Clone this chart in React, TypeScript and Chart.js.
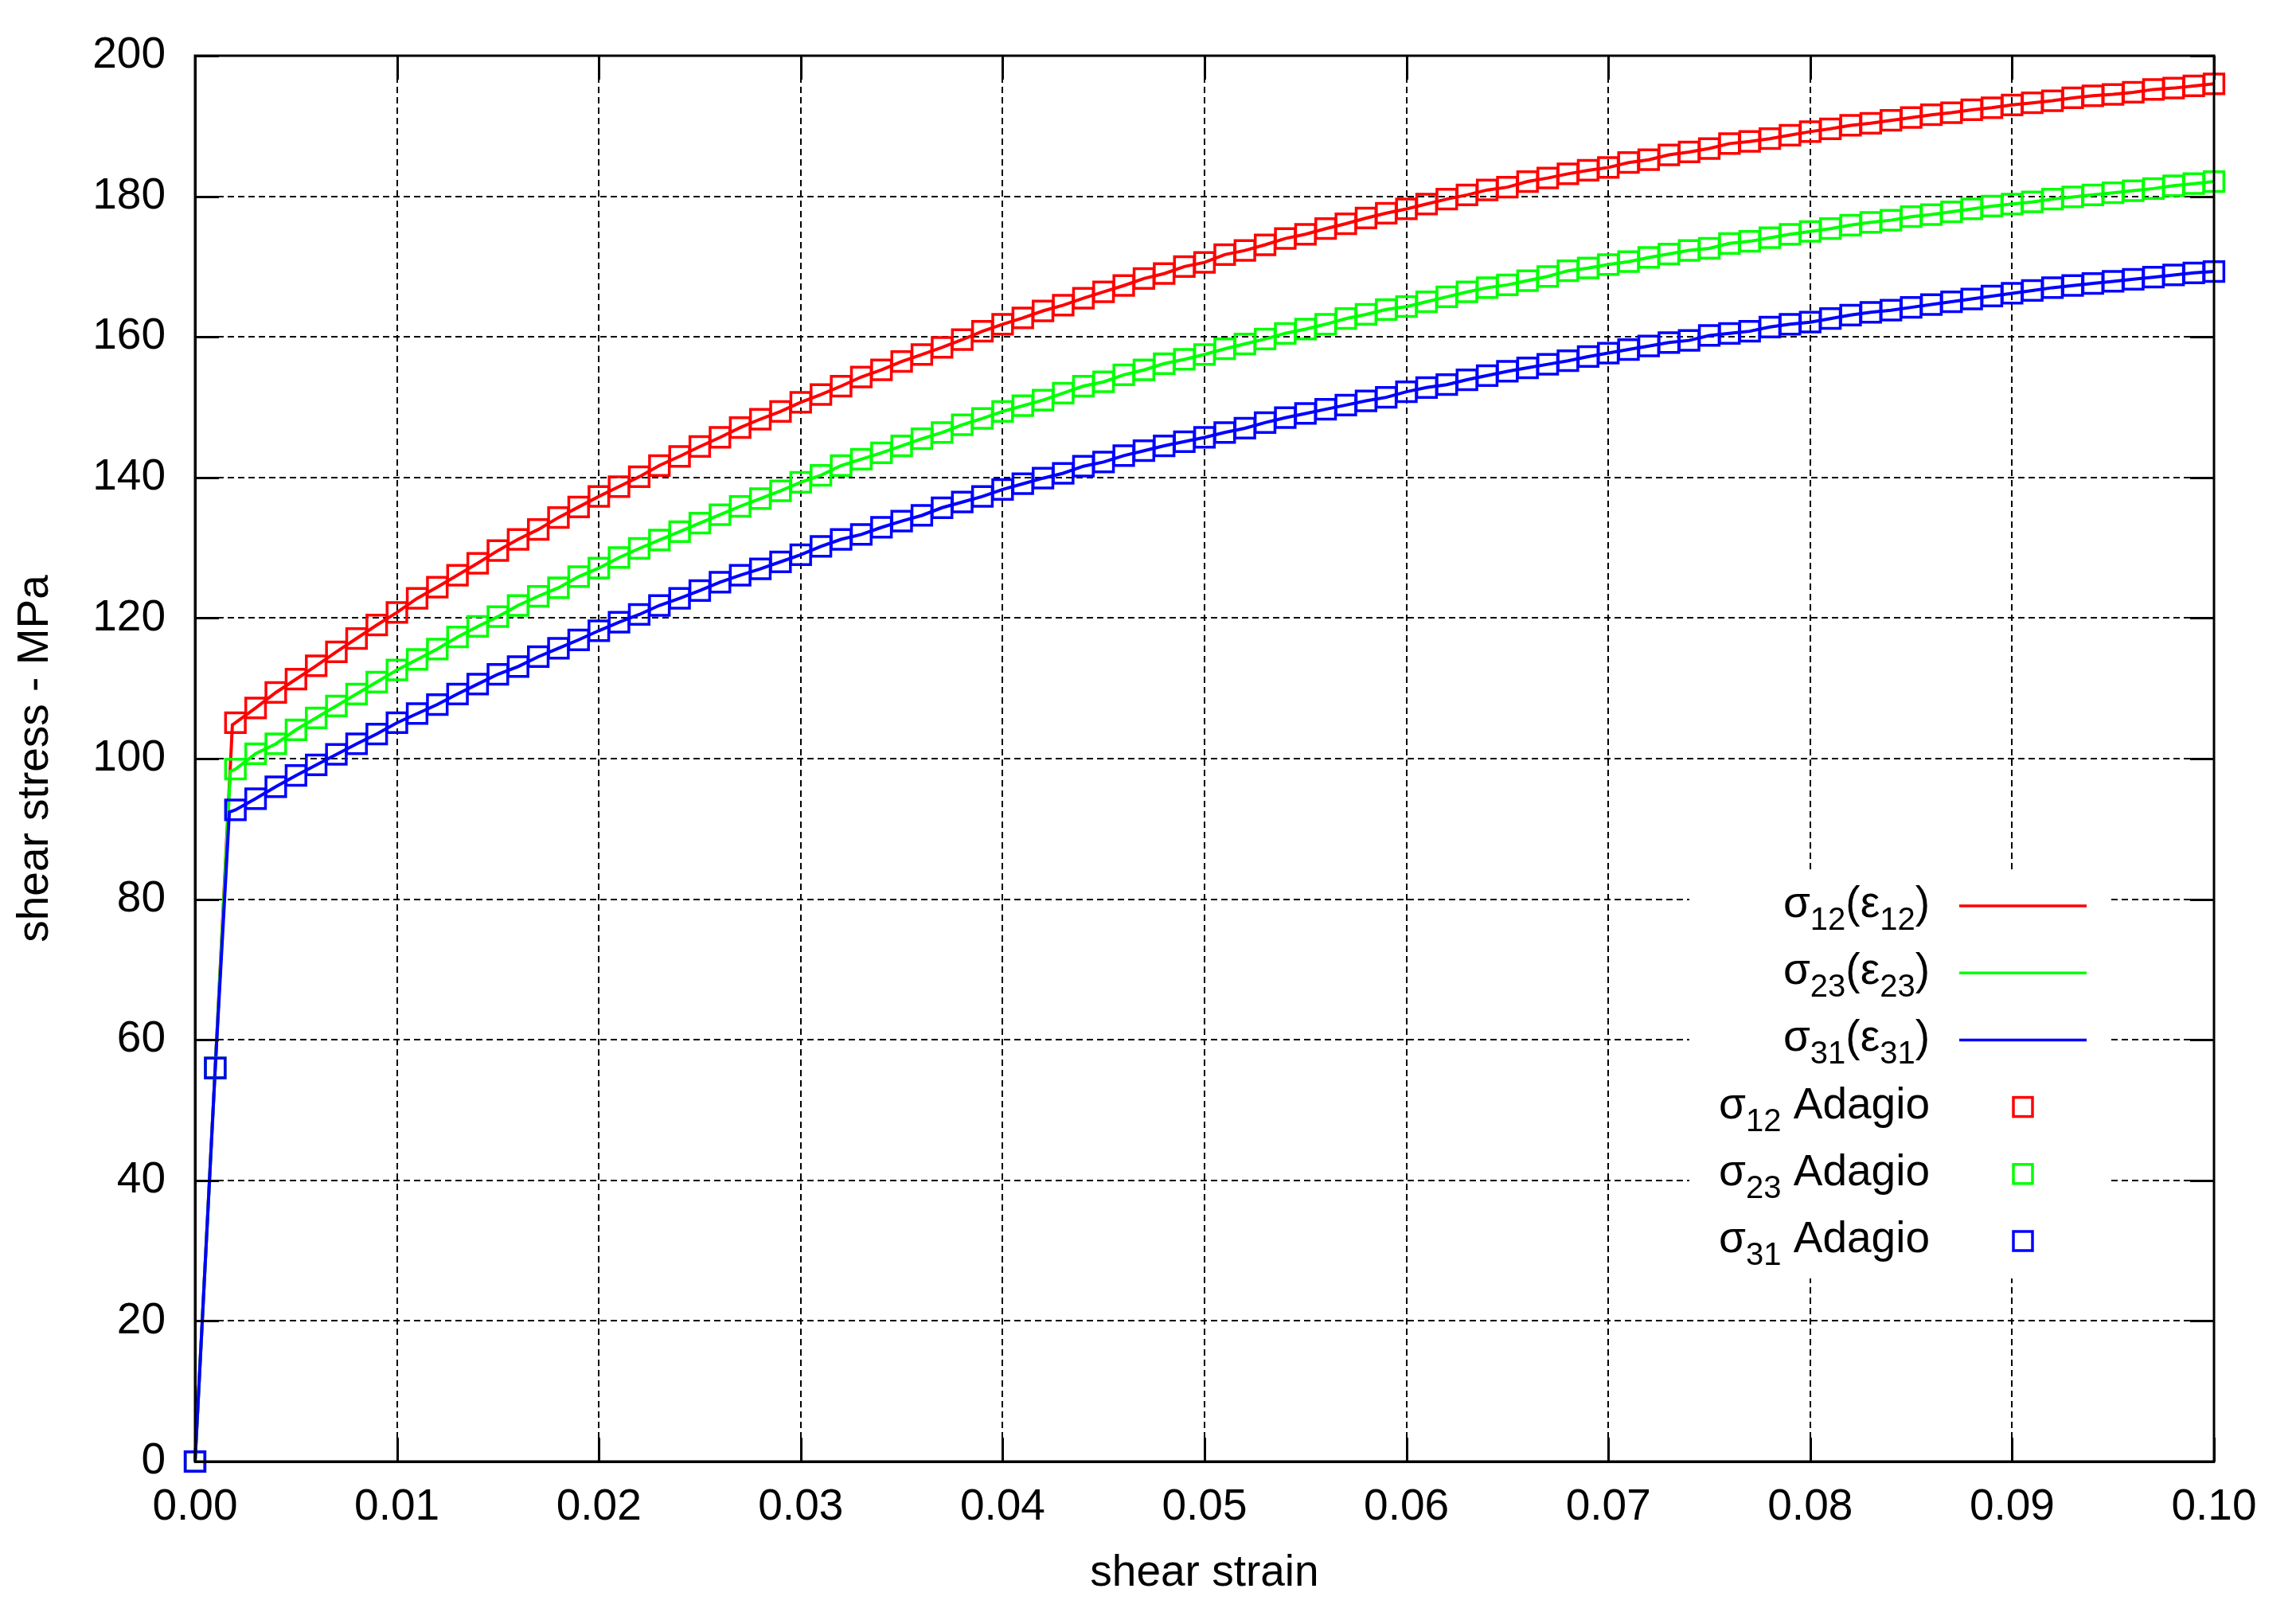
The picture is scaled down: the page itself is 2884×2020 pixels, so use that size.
import { useEffect, useRef } from 'react';
import { Chart, registerables } from 'chart.js';

Chart.register(...registerables);

const FONT = '"Liberation Sans", Arial, Helvetica, sans-serif';

// shear strain sampling of the Adagio output (x values)
const strain = [
  0, 0.001, 0.002, 0.003, 0.004, 0.005, 0.006, 0.007, 0.008, 0.009,
  0.010, 0.011, 0.012, 0.013, 0.014, 0.015, 0.016, 0.017, 0.018, 0.019,
  0.020, 0.021, 0.022, 0.023, 0.024, 0.025, 0.026, 0.027, 0.028, 0.029,
  0.030, 0.031, 0.032, 0.033, 0.034, 0.035, 0.036, 0.037, 0.038, 0.039,
  0.040, 0.041, 0.042, 0.043, 0.044, 0.045, 0.046, 0.047, 0.048, 0.049,
  0.050, 0.051, 0.052, 0.053, 0.054, 0.055, 0.056, 0.057, 0.058, 0.059,
  0.060, 0.061, 0.062, 0.063, 0.064, 0.065, 0.066, 0.067, 0.068, 0.069,
  0.070, 0.071, 0.072, 0.073, 0.074, 0.075, 0.076, 0.077, 0.078, 0.079,
  0.080, 0.081, 0.082, 0.083, 0.084, 0.085, 0.086, 0.087, 0.088, 0.089,
  0.090, 0.091, 0.092, 0.093, 0.094, 0.095, 0.096, 0.097, 0.098, 0.099,
  0.100,
];

// shear stress (MPa)
const sigma12 = [
  0, 56, 105.1, 107.2, 109.4, 111.3, 113.2, 115.2, 117.1, 119.0,
  120.8, 122.8, 124.4, 126.1, 127.8, 129.6, 131.2, 132.6, 134.3, 135.8,
  137.3, 138.7, 140.1, 141.7, 143.0, 144.4, 145.7, 147.1, 148.3, 149.4,
  150.7, 151.8, 153.0, 154.3, 155.3, 156.5, 157.5, 158.5, 159.6, 160.8,
  161.8, 162.7, 163.7, 164.5, 165.5, 166.4, 167.3, 168.3, 169.0, 170.0,
  170.6, 171.7, 172.3, 173.1, 174.0, 174.6, 175.4, 176.1, 176.9, 177.6,
  178.2, 178.9, 179.6, 180.2, 180.9, 181.3, 182.1, 182.6, 183.2, 183.7,
  184.1, 184.8, 185.2, 185.9, 186.3, 186.8, 187.5, 187.8, 188.2, 188.7,
  189.2, 189.6, 190.1, 190.4, 190.8, 191.2, 191.6, 191.9, 192.3, 192.6,
  193.0, 193.3, 193.6, 194.0, 194.3, 194.5, 194.8, 195.2, 195.4, 195.7,
  196.0,
];

const sigma23 = [
  0, 56, 98.5, 100.7, 102.1, 104.1, 105.8, 107.5, 109.2, 110.9,
  112.6, 114.1, 115.6, 117.3, 118.8, 120.2, 121.8, 123.1, 124.3, 125.9,
  127.1, 128.6, 129.9, 131.1, 132.3, 133.5, 134.7, 135.9, 137.0, 138.1,
  139.3, 140.3, 141.7, 142.6, 143.5, 144.5, 145.5, 146.4, 147.5, 148.4,
  149.4, 150.2, 151.0, 152.0, 153.0, 153.6, 154.6, 155.3, 156.2, 156.8,
  157.5, 158.3, 159.0, 159.7, 160.5, 161.1, 161.8, 162.6, 163.2, 163.9,
  164.3, 165.0, 165.7, 166.4, 167.0, 167.4, 168.0, 168.6, 169.4, 169.8,
  170.3, 170.7, 171.3, 171.8, 172.3, 172.6, 173.3, 173.6, 174.1, 174.6,
  175.0, 175.4, 175.9, 176.3, 176.6, 177.1, 177.4, 177.8, 178.2, 178.6,
  178.9, 179.2, 179.6, 179.9, 180.2, 180.5, 180.8, 181.1, 181.5, 181.8,
  182.1,
];

const sigma31 = [
  0, 56, 92.7, 94.3, 96.0, 97.6, 99.1, 100.6, 102.1, 103.5,
  105.1, 106.4, 107.7, 109.2, 110.6, 112.0, 113.1, 114.5, 115.7, 116.9,
  118.2, 119.4, 120.5, 121.8, 122.8, 123.9, 125.1, 126.1, 127.0, 128.0,
  129.0, 130.2, 131.2, 131.9, 132.9, 133.8, 134.6, 135.7, 136.5, 137.3,
  138.3, 139.1, 139.9, 140.6, 141.6, 142.2, 143.1, 143.8, 144.5, 145.1,
  145.7, 146.4, 147.0, 147.8, 148.5, 149.1, 149.7, 150.3, 150.9, 151.4,
  152.2, 152.8, 153.2, 153.9, 154.5, 155.1, 155.6, 156.1, 156.6, 157.2,
  157.7, 158.2, 158.7, 159.2, 159.5, 160.2, 160.5, 160.8, 161.4, 161.8,
  162.1, 162.6, 163.1, 163.5, 163.8, 164.2, 164.6, 165.0, 165.4, 165.8,
  166.2, 166.6, 167.0, 167.3, 167.6, 167.9, 168.2, 168.5, 168.8, 169.1,
  169.3,
];

// yield point of each analytical curve (end of the elastic branch)
const yieldStrain = [0.00185, 0.00175, 0.0017];
const yieldStress = [104.8, 98.2, 92.4];

// "_nn" marks a subscript
const curveLabels = ['σ_12(ε_12)', 'σ_23(ε_23)', 'σ_31(ε_31)'];
const adagioLabels = ['σ_12 Adagio', 'σ_23 Adagio', 'σ_31 Adagio'];
const colors = ['#ff0000', '#00ff00', '#0000ff'];

const xTitle = 'shear strain';
const yTitle = 'shear stress - MPa';

const stresses = [sigma12, sigma23, sigma31];

type Part = { t: string; sub: boolean };
function parseRich(s: string): Part[] {
  const parts: Part[] = [];
  const re = /_(\d+)/g;
  let last = 0;
  let m: RegExpExecArray | null;
  while ((m = re.exec(s))) {
    if (m.index > last) parts.push({ t: s.slice(last, m.index), sub: false });
    parts.push({ t: m[1], sub: true });
    last = re.lastIndex;
  }
  if (last < s.length) parts.push({ t: s.slice(last), sub: false });
  return parts;
}

function drawRich(ctx: CanvasRenderingContext2D, s: string, right: number, baseline: number) {
  const parts = parseRich(s);
  const mainFont = `55px ${FONT}`;
  const subFont = `40px ${FONT}`;
  let w = 0;
  for (const p of parts) {
    ctx.font = p.sub ? subFont : mainFont;
    w += ctx.measureText(p.t).width;
  }
  let x = right - w;
  ctx.textAlign = 'left';
  ctx.textBaseline = 'alphabetic';
  ctx.fillStyle = '#000';
  for (const p of parts) {
    ctx.font = p.sub ? subFont : mainFont;
    ctx.fillText(p.t, x, p.sub ? baseline + 16 : baseline);
    x += ctx.measureText(p.t).width;
  }
}

const plain = (s: string) => s.replace(/_/g, '');

const framePlugin = {
  id: 'gnuplotFrame',
  beforeDatasetsDraw(chart: any) {
    const { ctx, chartArea: a } = chart;
    // opaque key box
    ctx.save();
    ctx.fillStyle = '#fff';
    ctx.fillRect(a.right - 659, a.top + 1026, 530, 510);
    ctx.restore();
  },
  afterDatasetsDraw(chart: any) {
    const { ctx, chartArea: a, scales } = chart;
    ctx.save();
    ctx.strokeStyle = '#000';
    ctx.lineWidth = 3;
    ctx.strokeRect(a.left, a.top, a.right - a.left, a.bottom - a.top);
    const tl = 30;
    ctx.beginPath();
    for (const t of scales.x.ticks) {
      const px = Math.round(scales.x.getPixelForValue(t.value)) + 0.5;
      ctx.moveTo(px, a.bottom);
      ctx.lineTo(px, a.bottom - tl);
      ctx.moveTo(px, a.top);
      ctx.lineTo(px, a.top + tl);
    }
    for (const t of scales.y.ticks) {
      const py = Math.round(scales.y.getPixelForValue(t.value)) + 0.5;
      ctx.moveTo(a.left, py);
      ctx.lineTo(a.left + tl, py);
      ctx.moveTo(a.right, py);
      ctx.lineTo(a.right - tl, py);
    }
    ctx.stroke();
    ctx.restore();
  },
  afterDraw(chart: any) {
    const { ctx, chartArea: a } = chart;
    ctx.save();
    const textRight = a.right - 357;
    const x1 = a.right - 320;
    const x2 = a.right - 160;
    const mx = a.right - 240;
    const row0 = a.top + 1068;
    const step = 84.2;
    const labels = [...curveLabels, ...adagioLabels];
    labels.forEach((lab, i) => {
      const y = row0 + i * step;
      drawRich(ctx, lab, textRight, y + 14);
      const c = colors[i % 3];
      ctx.strokeStyle = c;
      ctx.lineWidth = 3.5;
      if (i < 3) {
        ctx.beginPath();
        ctx.moveTo(x1, y);
        ctx.lineTo(x2, y);
        ctx.stroke();
      } else {
        ctx.strokeRect(mx - 12, y - 12, 24, 24);
      }
    });
    ctx.restore();
  },
};

export default function App() {
  const ref = useRef<HTMLCanvasElement>(null);

  useEffect(() => {
    const lineSets = stresses.map((s, k) => ({
      type: 'scatter' as const,
      label: plain(curveLabels[k]),
      data: [
        { x: strain[0], y: s[0] },
        { x: strain[1], y: s[1] },
        { x: yieldStrain[k], y: yieldStress[k] },
        ...strain.slice(2).map((x, i) => ({ x, y: s[i + 2] })),
      ],
      showLine: true,
      borderColor: colors[k],
      borderWidth: 4,
      pointRadius: 0,
      tension: 0,
      clip: false as any,
      order: 6 - k,
    }));
    const pointSets = stresses.map((s, k) => ({
      type: 'scatter' as const,
      label: plain(adagioLabels[k]),
      data: strain.map((x, i) => ({ x, y: s[i] })),
      showLine: false,
      pointStyle: 'rect' as const,
      pointRadius: 17.5,
      pointHoverRadius: 17.5,
      pointBorderWidth: 3.5,
      pointBorderColor: colors[k],
      pointBackgroundColor: 'rgba(0,0,0,0)',
      clip: false as any,
      order: 3 - k,
    }));

    const tickFont = { family: FONT, size: 55 };
    const chart = new Chart(ref.current as HTMLCanvasElement, {
      type: 'scatter',
      data: { datasets: [...lineSets, ...pointSets] as any },
      options: {
        responsive: false,
        animation: false,
        devicePixelRatio: 1,
        layout: { padding: { top: 69, right: 103, bottom: 0, left: 0 } },
        plugins: { legend: { display: false }, tooltip: { enabled: false } },
        scales: {
          x: {
            type: 'linear',
            min: 0,
            max: 0.1,
            ticks: {
              stepSize: 0.01,
              callback: (v: any) => Number(v).toFixed(2),
              font: tickFont,
              color: '#000',
              padding: 25,
              maxRotation: 0,
              autoSkip: false,
            },
            grid: { color: '#000', lineWidth: 2, drawTicks: false },
            border: { display: true, color: '#000', width: 3, dash: [8, 5] },
            title: {
              display: true,
              text: xTitle,
              font: tickFont,
              color: '#000',
              padding: { top: 0, bottom: 10 },
            },
            afterFit: (s: any) => {
              s.height = 184;
            },
          },
          y: {
            type: 'linear',
            min: 0,
            max: 200,
            ticks: {
              stepSize: 20,
              font: tickFont,
              color: '#000',
              padding: 37,
            },
            grid: { color: '#000', lineWidth: 2, drawTicks: false },
            border: { display: true, color: '#000', width: 3, dash: [8, 5] },
            title: {
              display: true,
              text: yTitle,
              font: tickFont,
              color: '#000',
              padding: { top: 12, bottom: 0 },
            },
            afterFit: (s: any) => {
              s.width = 245;
            },
          },
        },
      } as any,
      plugins: [framePlugin],
    });
    return () => chart.destroy();
  }, []);

  return (
    <div style={{ position: 'fixed', left: 0, top: 0, width: 2884, height: 2020, background: '#fff' }}>
      <canvas ref={ref} width={2884} height={2020} style={{ display: 'block', width: 2884, height: 2020 }} />
    </div>
  );
}
